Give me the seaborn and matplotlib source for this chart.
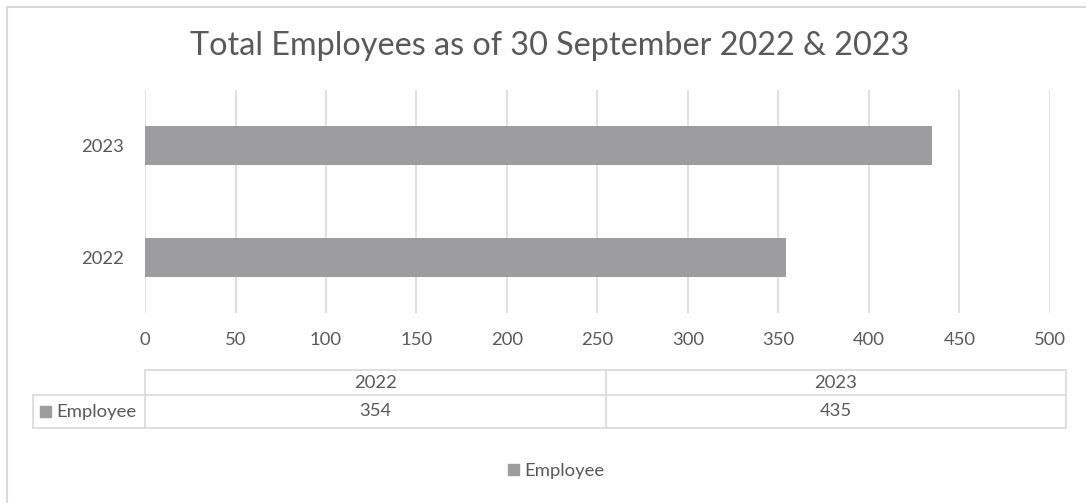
import matplotlib
matplotlib.use("Agg")
import matplotlib.pyplot as plt
from matplotlib.patches import Rectangle
from matplotlib.lines import Line2D
import seaborn as sns
import pandas as pd

years = ["2022", "2023"]
employees = [354, 435]
series_name = "Employee"
title = "Total Employees as of 30 September 2022 & 2023"
x_ticks = [0, 50, 100, 150, 200, 250, 300, 350, 400, 450, 500]

BAR = "#9D9D9F"
TXT = "#595959"
GRID = "#D9D9D9"

sns.set_theme(style="white")
plt.rcParams["font.family"] = ["Lato", "DejaVu Sans"]

W, H = 1086, 503
fig = plt.figure(figsize=(W / 100, H / 100), dpi=100)

def fx(px):
    return px / W

def fy(py):
    return 1 - py / H

ax = fig.add_axes([fx(145), fy(313), fx(1050) - fx(145), fy(90) - fy(313)])

df = pd.DataFrame({"Year": years, series_name: employees})
sns.barplot(data=df, x=series_name, y="Year", order=years[::-1], orient="h",
            color=BAR, saturation=1, width=0.35, ax=ax, edgecolor="none")

ax.set_xlim(x_ticks[0], x_ticks[-1])
ax.set_ylim(1.5, -0.5)
ax.set_xticks(x_ticks)
ax.set_xticklabels([str(t) for t in x_ticks])
ax.grid(axis="x", color=GRID, linewidth=1.2)
ax.grid(axis="y", visible=False)
ax.set_axisbelow(True)
for s in ax.spines.values():
    s.set_visible(False)
ax.tick_params(axis="x", length=0, pad=14, labelsize=13.3, labelcolor=TXT)
ax.tick_params(axis="y", length=0, pad=15, labelsize=13.3, labelcolor=TXT)
ax.set_xlabel("")
ax.set_ylabel("")

fig.text(fx(550), fy(46), title, ha="center", va="center", fontsize=23.3,
         color=TXT, fontweight="normal")

# data table
lc = GRID
lw = 1.2
def hline(x0, x1, y):
    fig.add_artist(Line2D([fx(x0), fx(x1)], [fy(y), fy(y)], color=lc, lw=lw))
def vline(x, y0, y1):
    fig.add_artist(Line2D([fx(x), fx(x)], [fy(y0), fy(y1)], color=lc, lw=lw))

left_lbl, x0, xm, x1 = 33, 145, 606, 1066
yt, ymid, yb = 370, 395, 428
hline(x0, x1, yt)
hline(left_lbl, x1, ymid)
hline(left_lbl, x1, yb)
vline(x0, yt, yb)
vline(xm, yt, yb)
vline(x1, yt, yb)
vline(left_lbl, ymid, yb)

cols = [(x0 + xm) / 2, (xm + x1) / 2]
for cx, yr, val in zip(cols, years, employees):
    fig.text(fx(cx), fy((yt + ymid) / 2), yr, ha="center", va="center",
             fontsize=13.3, color=TXT)
    fig.text(fx(cx), fy((ymid + yb) / 2), str(val), ha="center", va="center",
             fontsize=13.3, color=TXT)
fig.add_artist(Rectangle((fx(40), fy(417)), fx(11), fy(406) - fy(417),
                         color=BAR, transform=fig.transFigure))
fig.text(fx(56), fy((ymid + yb) / 2), series_name, ha="left", va="center",
         fontsize=13.3, color=TXT)

# legend
handle = Rectangle((0, 0), 1, 1, color=BAR)
fig.legend([handle], [series_name], loc="center", bbox_to_anchor=(fx(556), fy(471)),
           frameon=False, fontsize=13.3, labelcolor=TXT, handlelength=0.6,
           handleheight=0.6, handletextpad=0.3)

# chart border
fig.add_artist(Line2D([fx(7), 1], [fy(7), fy(7)], color=GRID, lw=1.5))
fig.add_artist(Line2D([fx(7), fx(7)], [fy(7), 0], color=GRID, lw=1.5))

fig.savefig("out.png", dpi=100)
